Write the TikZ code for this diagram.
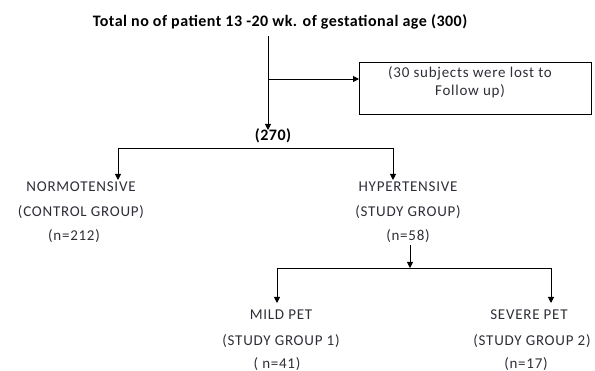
\documentclass[tikz,border=0pt]{standalone}
\usepackage{fontspec}
\setmainfont{Carlito}
\usetikzlibrary{arrows.meta}
\definecolor{txt}{HTML}{2E2E38}
\begin{document}
\begin{tikzpicture}[x=1pt,y=-1pt,
  lbl/.style={text=txt,font=\fontsize{15}{18}\selectfont\addfontfeatures{LetterSpace=5},inner sep=0pt,anchor=center},
  blbl/.style={text=black,font=\fontsize{16}{18}\selectfont\bfseries\addfontfeatures{LetterSpace=3},inner sep=0pt,anchor=center},
  arr/.style={-{Triangle[length=6pt,width=6pt]},line width=0.9pt},
  ln/.style={line width=0.9pt}]
\useasboundingbox (0,0) rectangle (595,371);
\node[blbl] (title) at (280,22) {Total no of patient 13 -20 wk. of gestational age (300)};
\node[draw,line width=0.7pt,minimum width=232pt,minimum height=52pt,anchor=north west,inner sep=0pt] (lost) at (359,62) {};
\node[lbl,align=center] (losttxt) at (470,82) {(30 subjects were lost to\\Follow up)};
\node[blbl] (n270) at (273,136) {(270)};
\coordinate (top) at (268,36);
\coordinate (br) at (268,79);
\coordinate (bot) at (268,130);
\draw[ln] (top) -- (br);
\draw[arr] (br) -- (bot);
\draw[arr] (br) -- (lost.west |- br);
% level 1
\coordinate (h1l) at (118,148);
\coordinate (h1r) at (393,148);
\coordinate (a1l) at (118,180);
\coordinate (a1r) at (393,180);
\draw[ln] (h1l) -- (h1r);
\draw[arr] (h1l) -- (a1l);
\draw[arr] (h1r) -- (a1r);
\node[lbl] (normo1) at (81,187) {NORMOTENSIVE};
\node[lbl] (normo2) at (81,212) {(CONTROL GROUP)};
\node[lbl] (normo3) at (74,236) {(n=212)};
\node[lbl] (hyper1) at (408,187) {HYPERTENSIVE};
\node[lbl] (hyper2) at (408,212) {(STUDY GROUP)};
\node[lbl] (hyper3) at (408,236) {(n=58)};
% level 2
\coordinate (v2t) at (410,245);
\coordinate (v2b) at (410,268);
\coordinate (h2l) at (277,268);
\coordinate (h2r) at (551,268);
\coordinate (a2l) at (277,303);
\coordinate (a2r) at (551,303);
\draw[arr] (v2t) -- (v2b);
\draw[ln] (h2l) -- (h2r);
\draw[arr] (h2l) -- (a2l);
\draw[arr] (h2r) -- (a2r);
\node[lbl] (mild1) at (281,315) {MILD PET};
\node[lbl] (mild2) at (281,341) {(STUDY GROUP 1)};
\node[lbl] (mild3) at (277,364) {( n=41)};
\node[lbl] (sev1) at (529,315) {SEVERE PET};
\node[lbl] (sev2) at (532,341) {(STUDY GROUP 2)};
\node[lbl] (sev3) at (526,364) {(n=17)};
\end{tikzpicture}
\end{document}
